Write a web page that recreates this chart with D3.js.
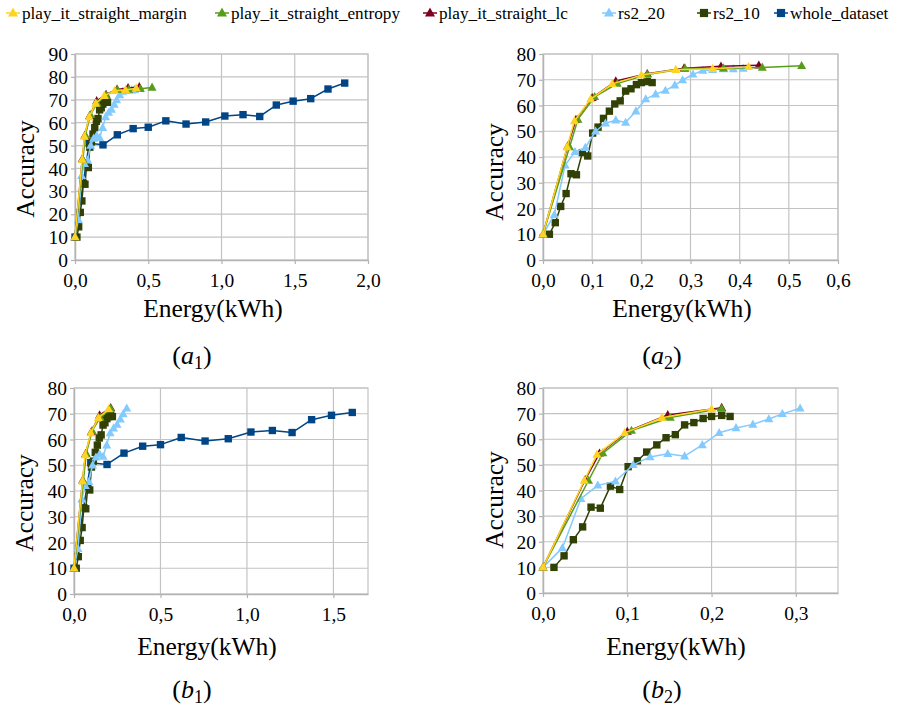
<!DOCTYPE html>
<html>
<head>
<meta charset="utf-8">
<script src="https://cdn.jsdelivr.net/npm/d3@7"></script>
<style>
  html, body { margin: 0; padding: 0; background: #fff; }
  svg { display: block; }
</style>
</head>
<body>
<svg id="chart" width="913" height="708"></svg>
<script>
// ---- series data: energy (kWh) and accuracy (%) ----
const seriesNames = ["play_it_straight_margin", "play_it_straight_entropy", "play_it_straight_lc", "rs2_20", "rs2_10", "whole_dataset"];
const seriesColors = ["#ffd320", "#579d1c", "#7e0021", "#83caff", "#314004", "#004586"];
const seriesMarkers = ["triangle", "triangle", "triangle", "triangle", "square", "square"];

const marginEnergy = [0, 0.049, 0.064, 0.097, 0.141, 0.200, 0.270, 0.345, 0.418];
const marginAcc    = [10, 43.9, 54.0, 62.5, 68.4, 71.8, 73.9, 74.3, 75.0];

const entropyEnergy = [0, 0.054, 0.071, 0.105, 0.151, 0.212, 0.289, 0.367, 0.446, 0.526];
const entropyAcc    = [10, 43.9, 54.6, 63.4, 68.5, 72.0, 74.4, 74.5, 74.8, 75.4];

const lcEnergy = [0, 0.050, 0.067, 0.100, 0.148, 0.212, 0.287, 0.362, 0.439];
const lcAcc    = [10, 44.2, 54.5, 63.0, 69.5, 72.3, 74.5, 75.2, 75.6];

const rs20Energy = [0, 0.023, 0.045, 0.065, 0.086, 0.107, 0.127, 0.148, 0.168, 0.189, 0.209, 0.229, 0.249, 0.268, 0.284, 0.305, 0.325, 0.345, 0.367, 0.387, 0.407];
const rs20Acc    = [10, 17.6, 36.8, 42.0, 43.6, 50.0, 53.1, 54.3, 53.4, 57.8, 62.5, 64.4, 65.8, 67.9, 69.9, 72.1, 73.6, 73.9, 74.2, 74.2, 74.4];

const rs10Energy = [0.013, 0.025, 0.036, 0.047, 0.057, 0.068, 0.080, 0.091, 0.101, 0.112, 0.123, 0.135, 0.146, 0.157, 0.168, 0.179, 0.190, 0.200, 0.212, 0.222];
const rs10Acc    = [10, 14.5, 20.8, 25.8, 33.5, 33.1, 41.7, 40.4, 49.3, 51.6, 55.0, 57.8, 60.6, 61.8, 65.6, 66.5, 68.1, 68.9, 69.3, 68.9];

const wholeEnergy = [0, 0.097, 0.191, 0.289, 0.397, 0.500, 0.620, 0.758, 0.892, 1.023, 1.147, 1.261, 1.374, 1.489, 1.609, 1.727, 1.841];
const wholeAcc    = [10, 51.0, 50.3, 54.7, 57.4, 58.0, 60.8, 59.4, 60.3, 62.9, 63.5, 62.7, 67.7, 69.4, 70.5, 74.7, 77.3];

// number of leading points of each series shown in the (b) panels
const partBCounts = [6, 6, 6, 16, 20, 15];

// axis ticks
const xTicksA1 = [0, 0.5, 1.0, 1.5, 2.0];
const xTicksA2 = [0, 0.1, 0.2, 0.3, 0.4, 0.5, 0.6];
const xTicksB1 = [0, 0.5, 1.0, 1.5];
const xTicksB2 = [0, 0.1, 0.2, 0.3];
const yTicks90 = [0, 10, 20, 30, 40, 50, 60, 70, 80, 90];
const yTicks80 = [0, 10, 20, 30, 40, 50, 60, 70, 80];

const panelLabels = [["a", "1"], ["a", "2"], ["b", "1"], ["b", "2"]];

// ---- build series objects ----
const energies = [marginEnergy, entropyEnergy, lcEnergy, rs20Energy, rs10Energy, wholeEnergy];
const accs = [marginAcc, entropyAcc, lcAcc, rs20Acc, rs10Acc, wholeAcc];
const series = seriesNames.map((name, i) => ({
  name, color: seriesColors[i], marker: seriesMarkers[i],
  points: energies[i].map((e, j) => ({ e, a: accs[i][j] }))
}));

const svg = d3.select("#chart");
const SERIF = "'Liberation Serif', 'DejaVu Serif', serif";
const GRID = "#c3c3c3";
const AXIS = "#b3b3b3";

const fmtX = v => d3.format(".1f")(v).replace(".", ",");

const panels = [
  { left: 75,  right: 368, top: 54,  bottom: 260, xMax: 2.0,  yMax: 90, xTicks: xTicksA1, yTicks: yTicks90, part: "a", withWhole: true,
    yTitle: [25, 169], xTitle: [213, 317], label: [192, 364] },
  { left: 543, right: 838, top: 54,  bottom: 260, xMax: 0.6,  yMax: 80, xTicks: xTicksA2, yTicks: yTicks80, part: "a", withWhole: false,
    yTitle: [494, 172], xTitle: [682, 317], label: [662, 364] },
  { left: 74,  right: 368, top: 388, bottom: 594, xMax: 1.7,  yMax: 80, xTicks: xTicksB1, yTicks: yTicks80, part: "b", withWhole: true,
    yTitle: [24, 503], xTitle: [207, 655], label: [192, 698] },
  { left: 543, right: 838, top: 388, bottom: 593, xMax: 0.35, yMax: 80, xTicks: xTicksB2, yTicks: yTicks80, part: "b", withWhole: false,
    yTitle: [494, 500], xTitle: [676, 655], label: [662, 698] }
];

function drawMarker(sel, kind, color, size) {
  if (kind === "triangle") {
    const h = size * 0.9, w = size;
    sel.append("path")
      .attr("d", `M0,${-h * 0.6}L${w / 2},${h * 0.4}L${-w / 2},${h * 0.4}Z`)
      .attr("fill", color);
  } else {
    const s = size * 0.82;
    sel.append("rect").attr("x", -s / 2).attr("y", -s / 2).attr("width", s).attr("height", s).attr("fill", color);
  }
}

panels.forEach((p, pi) => {
  const g = svg.append("g");
  const x = d3.scaleLinear().domain([0, p.xMax]).range([p.left, p.right]);
  const y = d3.scaleLinear().domain([0, p.yMax]).range([p.bottom, p.top]);

  // grid
  g.append("g").selectAll("line.v").data(p.xTicks.filter(v => v > 0)).join("line")
    .attr("x1", d => x(d)).attr("x2", d => x(d)).attr("y1", p.top).attr("y2", p.bottom)
    .attr("stroke", GRID).attr("stroke-width", 1.2);
  g.append("g").selectAll("line.h").data(p.yTicks.filter(v => v > 0)).join("line")
    .attr("x1", p.left).attr("x2", p.right).attr("y1", d => y(d)).attr("y2", d => y(d))
    .attr("stroke", GRID).attr("stroke-width", 1.2);
  // frame
  g.append("rect").attr("x", p.left).attr("y", p.top)
    .attr("width", p.right - p.left).attr("height", p.bottom - p.top)
    .attr("fill", "none").attr("stroke", GRID).attr("stroke-width", 1.2);

  // axes
  const yAxis = d3.axisLeft(y).tickValues(p.yTicks).tickSize(4).tickSizeOuter(0).tickPadding(3).tickFormat(d3.format("d"));
  const xAxis = d3.axisBottom(x).tickValues(p.xTicks).tickSize(4).tickSizeOuter(0).tickPadding(4).tickFormat(fmtX);
  const ya = g.append("g").attr("transform", `translate(${p.left},0)`).call(yAxis);
  const xa = g.append("g").attr("transform", `translate(0,${p.bottom})`).call(xAxis);
  [ya, xa].forEach(a => {
    a.select(".domain").attr("stroke", AXIS).attr("stroke-width", 1.5);
    a.selectAll(".tick line").attr("stroke", AXIS).attr("stroke-width", 1.2);
    a.selectAll(".tick text").attr("fill", "#000").style("font-family", SERIF).style("font-size", "19.5px");
  });
  xa.selectAll(".tick text").attr("dy", "0.95em");
  ya.selectAll(".tick text").attr("dy", "0.34em");

  // axis titles
  g.append("text").attr("transform", `translate(${p.yTitle[0]},${p.yTitle[1]}) rotate(-90)`)
    .attr("text-anchor", "middle").attr("dominant-baseline", "central")
    .style("font-family", SERIF).style("font-size", "25.5px").text("Accuracy");
  g.append("text").attr("x", p.xTitle[0]).attr("y", p.xTitle[1]).attr("text-anchor", "middle")
    .style("font-family", SERIF).style("font-size", "25.5px").text("Energy(kWh)");

  // panel label like (a_1)
  const lab = g.append("text").attr("x", p.label[0]).attr("y", p.label[1]).attr("text-anchor", "middle")
    .style("font-family", SERIF).style("font-size", "26px");
  lab.append("tspan").text("(");
  lab.append("tspan").style("font-style", "italic").text(panelLabels[pi][0]);
  lab.append("tspan").attr("dy", 5).style("font-size", "18px").text(panelLabels[pi][1]);
  lab.append("tspan").attr("dy", -5).text(")");

  // series, drawn so that the first legend entry ends up on top
  const clipId = "clip" + pi;
  svg.append("clipPath").attr("id", clipId).append("rect")
    .attr("x", p.left - 6).attr("y", p.top - 6).attr("width", p.right - p.left + 12).attr("height", p.bottom - p.top + 12);
  const sg = g.append("g").attr("clip-path", `url(#${clipId})`);
  const line = d3.line().x(d => x(d.e)).y(d => y(d.a));
  const order = series.map((s, i) => i).reverse();
  order.forEach(i => {
    const s = series[i];
    if (!p.withWhole && s.name === "whole_dataset") return;
    const pts = p.part === "b" ? s.points.slice(0, partBCounts[i]) : s.points;
    sg.append("path").datum(pts).attr("d", line)
      .attr("fill", "none").attr("stroke", s.color).attr("stroke-width", 1.5).attr("stroke-linejoin", "round");
    sg.append("g").selectAll("g").data(pts).join("g")
      .attr("transform", d => `translate(${x(d.e)},${y(d.a)})`)
      .each(function () { drawMarker(d3.select(this), s.marker, s.color, 9); });
  });
});

// legend
const legendX = [13, 222, 430, 609, 704, 781];
const leg = svg.append("g");
series.forEach((s, i) => {
  const lg = leg.append("g").attr("transform", `translate(${legendX[i]},13)`);
  lg.append("line").attr("x1", -7).attr("x2", 7).attr("stroke", s.color).attr("stroke-width", 1.5);
  drawMarker(lg, s.marker, s.color, 10);
  lg.append("text").attr("x", 9).attr("y", 6)
    .style("font-family", SERIF).style("font-size", "17.2px").text(s.name);
});
</script>
</body>
</html>
